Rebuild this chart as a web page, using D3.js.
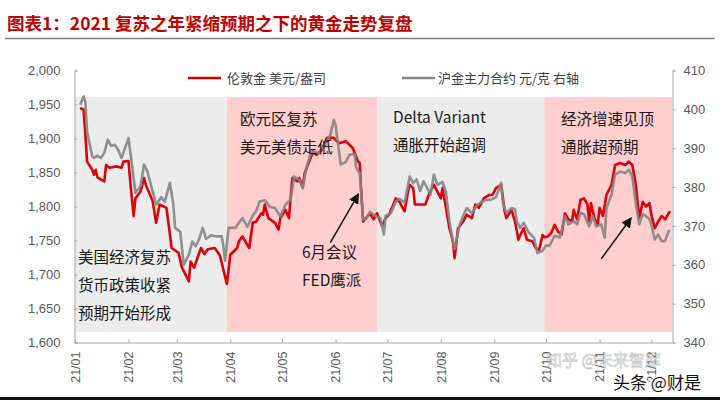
<!DOCTYPE html>
<html><head><meta charset="utf-8">
<script src="https://cdn.jsdelivr.net/npm/d3@7"></script>
<style>body{margin:0;background:#fff}svg{display:block}</style>
</head><body>
<svg id="c" width="720" height="400"></svg>
<script>
const title = "图表1：2021 复苏之年紧缩预期之下的黄金走势复盘";
const seriesNames = ["伦敦金 美元/盎司", "沪金主力合约 元/克 右轴"];
const leftTicks = [1600, 1650, 1700, 1750, 1800, 1850, 1900, 1950, 2000];
const rightTicks = [340, 350, 360, 370, 380, 390, 400, 410];
const monthTicks = ["01-01","02-01","03-01","04-01","05-01","06-01","07-01","08-01","09-01","10-01","11-01","12-01"];
const monthLabels = ["21/01","21/02","21/03","21/04","21/05","21/06","21/07","21/08","21/09","21/10","21/11","21/12"];
const periodStarts = ["01-01","03-30","06-25","09-30"];
const periodEnds = ["03-30","06-25","09-30","12-13"];
const periodKinds = ["gray","pink","gray","pink"];
const noteLines = [
  ["美国经济复苏","货币政策收紧","预期开始形成"],
  ["欧元区复苏","美元美债走低"],
  ["6月会议","FED鹰派"],
  ["Delta Variant","通胀开始超调"],
  ["经济增速见顶","通胀超预期"]
];

const redDates = ["01-04","01-06","01-07","01-08","01-11","01-12","01-13","01-14","01-18","01-19","01-21","01-25","01-28","01-29",
"02-01","02-02","02-04","02-05","02-08","02-10","02-11","02-15","02-17","02-19","02-23","02-25","02-26",
"03-02","03-04","03-08","03-09","03-11","03-15","03-17","03-19","03-23","03-26","03-30",
"04-01","04-05","04-06","04-08","04-12","04-14","04-16","04-19","04-20","04-21","04-23","04-27","04-29","04-30",
"05-03","05-05","05-06","05-07","05-10","05-11","05-13","05-14","05-17","05-19","05-21","05-24","05-27","05-31",
"06-03","06-07","06-09","06-11","06-14","06-15","06-16","06-17","06-18","06-21","06-23","06-25","06-28","06-30",
"07-02","07-06","07-08","07-11","07-13","07-14","07-16","07-17","07-21","07-23","07-25","07-28","07-29","07-31",
"08-01","08-02","08-04","08-06","08-08","08-09","08-11","08-14","08-16","08-19","08-21","08-23","08-26","08-29","08-31",
"09-02","09-05","09-07","09-08","09-11","09-13","09-15","09-16","09-18","09-20","09-23","09-25","09-27","09-29","09-30",
"10-02","10-04","10-06","10-08","10-10","10-12","10-14","10-16","10-17","10-19","10-21","10-23","10-25","10-26","10-27","10-29","10-31",
"11-01","11-03","11-05","11-08","11-10","11-13","11-16","11-18","11-20","11-22","11-24","11-26","11-28","11-30",
"12-01","12-03","12-05","12-07","12-09","12-11","12-12"];
const redValues = [1945,1942,1906,1866,1854,1847,1854,1843,1837,1861,1857,1859,1857,1866,
1867,1837,1786,1812,1822,1842,1832,1808,1776,1803,1798,1759,1739,
1732,1710,1690,1719,1710,1739,1730,1737,1739,1728,1686,
1729,1739,1749,1756,1739,1776,1778,1790,1788,1803,1783,1776,1766,1783,
1795,1783,1813,1842,1837,1842,1828,1848,1868,1881,1876,1883,1901,1901,
1893,1896,1891,1886,1866,1864,1817,1778,1781,1790,1781,1790,1771,1783,
1788,1812,1807,1793,1822,1832,1827,1803,1803,1803,1817,1832,1827,1817,
1812,1827,1798,1768,1749,1724,1768,1778,1788,1783,1803,1798,1812,1817,1817,
1827,1832,1793,1783,1795,1778,1751,1758,1768,1751,1749,1739,1736,1758,1755,
1756,1761,1773,1763,1759,1790,1781,1778,1795,1781,1810,1812,1803,1778,1805,1783,1773,
1798,1786,1817,1832,1861,1864,1861,1866,1861,1832,1783,1807,1800,1805,
1788,1768,1778,1786,1781,1790,1793];

const grayDates = ["01-04","01-06","01-07","01-08","01-11","01-12","01-14","01-16","01-18","01-20","01-22","01-24","01-26","01-28",
"02-01","02-03","02-05","02-08","02-10","02-12","02-14","02-17","02-20","02-22","02-25","02-27","02-28",
"03-03","03-05","03-08","03-10","03-12","03-14","03-16","03-18","03-21","03-24","03-27","03-28","03-29","03-31",
"04-04","04-06","04-08","04-11","04-14","04-16","04-18","04-21","04-24","04-27","04-30",
"05-03","05-06","05-08","05-11","05-13","05-15","05-18","05-22","05-26","05-29","05-31",
"06-01","06-02","06-04","06-07","06-09","06-12","06-13","06-15","06-16","06-17","06-19","06-21","06-24","06-27","06-29","06-30",
"07-03","07-06","07-08","07-11","07-14","07-16","07-18","07-20","07-22","07-25","07-26","07-28","07-30",
"08-02","08-04","08-06","08-08","08-09","08-12","08-14","08-16","08-19","08-22","08-24","08-27","08-30",
"09-02","09-05","09-06","09-08","09-11","09-13","09-14","09-16","09-18","09-21","09-24","09-26","09-29",
"10-01","10-03","10-06","10-09","10-12","10-14","10-17","10-19","10-21","10-23","10-26","10-28","10-30",
"11-02","11-04","11-05","11-08","11-10","11-13","11-16","11-18","11-20","11-22","11-24","11-26","11-28","11-30",
"12-01","12-03","12-05","12-07","12-09","12-11","12-12"];
const grayValues = [401.2,403.3,402,394.3,387.9,387.5,388.1,387.5,388.8,392.2,390.6,390.9,389.6,387.5,
392.6,385.8,378.5,380.2,385.8,383.9,380.6,375.5,377.4,376.2,381.1,375.5,369.5,
368.5,360,362.6,366,364.8,366.7,369.5,366.7,367.6,367.3,367.3,364.8,361,369.5,
369.5,370.8,372,369.8,372.7,373.8,376.3,376.6,374.9,374.6,372.4,
375.5,376.8,382.7,381.9,379.7,384.9,389.2,388.8,390.9,393.5,397.3,
396,392.6,385.8,386.5,388.3,388.6,385,383.5,378,371.6,372,373.6,372.6,372,367.8,372.6,
373.3,376.3,377,376,382.7,381,382,379,381.5,379,378,383.2,380.6,
381.3,378.6,371.2,366,364,370.4,372.6,374.6,373.3,375.3,376,376.7,376.7,
377.4,381.1,376,373.3,374.6,374.3,371.2,369.5,370.8,368.3,367,363,363.6,
365,364.9,367.5,367,372.5,370.4,371.2,370.4,373.4,373,369.9,372.5,369.9,
370.4,367,374.6,378,383.2,384,383.6,384.5,382.7,375.9,370.4,373,372.5,371.7,
370.4,366.5,367.8,366.1,366.1,368.7,368.7];

const parse = s => d3.timeParse("%Y-%m-%d")("2021-" + s);
const svg = d3.select("#c");
const FONT = "'Noto Sans CJK SC', 'Noto Sans', sans-serif";
const NUMF = "'Liberation Sans', Arial, sans-serif";

const x = d3.scaleTime().domain([parse("01-01"), parse("12-13")]).range([75, 672]);
const yL = d3.scaleLinear().domain([1600, 2000]).range([342.5, 70.5]);
const yR = d3.scaleLinear().domain([340, 410]).range([342.5, 70.5]);

// title
svg.append("text").attr("x", 7).attr("y", 30).text(title)
  .attr("font-family", FONT).attr("font-weight", 700).attr("font-size", 17.5).attr("fill", "#c00000");
svg.append("line").attr("x1", 5).attr("x2", 715).attr("y1", 38.5).attr("y2", 38.5)
  .attr("stroke", "#808080").attr("stroke-width", 1.5);

// shaded periods
const bandTop = 97, bandBottom = 332;
svg.append("g").selectAll("rect").data(periodStarts.map((s, i) => ({s, e: periodEnds[i], k: periodKinds[i]})))
  .join("rect")
  .attr("x", d => x(parse(d.s)))
  .attr("width", d => x(parse(d.e)) - x(parse(d.s)))
  .attr("y", bandTop).attr("height", bandBottom - bandTop)
  .attr("fill", d => d.k === "pink" ? "#ffcfcf" : "#ececec");

// axes
const axColor = "#a6a6a6", lblColor = "#595959";
const gL = svg.append("g").attr("transform", "translate(74.5,0)")
  .call(d3.axisLeft(yL).tickValues(leftTicks).tickFormat(d3.format(",")).tickSize(-3).tickPadding(14));
const gR = svg.append("g").attr("transform", "translate(672.5,0)")
  .call(d3.axisRight(yR).tickValues(rightTicks).tickSize(3).tickPadding(8));
const gX = svg.append("g").attr("transform", "translate(0,342.5)")
  .call(d3.axisBottom(x).tickValues(monthTicks.map(parse)).tickFormat((d, i) => monthLabels[i]).tickSize(-3).tickSizeOuter(0));
[gL, gR, gX].forEach(g => {
  g.selectAll("path,line").attr("stroke", axColor);
  g.selectAll("text").attr("fill", lblColor).attr("font-family", NUMF).attr("font-size", 13);
});
gX.selectAll("text").attr("transform", "rotate(-90)").attr("text-anchor", "end")
  .attr("x", -9).attr("y", 0).attr("dy", "0.35em").attr("font-size", 12.5);

// lines
const redData = redDates.map((d, i) => ({d: parse(d), v: redValues[i]}));
const grayData = grayDates.map((d, i) => ({d: parse(d), v: grayValues[i]}));
svg.append("path").datum(redData)
  .attr("d", d3.line().x(d => x(d.d)).y(d => yL(d.v)))
  .attr("fill", "none").attr("stroke", "#e0000a").attr("stroke-width", 2.6).attr("stroke-linejoin", "round");
svg.append("path").datum(grayData)
  .attr("d", d3.line().x(d => x(d.d)).y(d => yR(d.v)))
  .attr("fill", "none").attr("stroke", "#858585").attr("stroke-opacity", 0.9).attr("stroke-width", 2.6).attr("stroke-linejoin", "round");

// legend
const legend = svg.append("g");
const legX = [188, 402], legTX = [227, 438], legC = ["#d40000", "#858585"];
seriesNames.forEach((n, i) => {
  legend.append("line").attr("x1", legX[i]).attr("x2", legX[i] + 33).attr("y1", 78).attr("y2", 78)
    .attr("stroke", legC[i]).attr("stroke-width", 2.5);
  legend.append("text").attr("x", legTX[i]).attr("y", 82.5).text(n)
    .attr("font-family", FONT).attr("font-size", 13).attr("fill", "#404040");
});

// annotations
const notePos = [[78, 263], [240, 125], [302, 258], [393, 123], [561, 125]];
noteLines.forEach((lines, i) => {
  lines.forEach((t, j) => {
    svg.append("text").attr("x", notePos[i][0]).attr("y", notePos[i][1] + j * 28).text(t)
      .attr("font-family", FONT).attr("font-size", 15.5).attr("fill", "#1a1a1a");
  });
});

// arrows
const defs = svg.append("defs");
defs.append("marker").attr("id", "ah").attr("viewBox", "0 0 10 10").attr("refX", 8).attr("refY", 5)
  .attr("markerWidth", 7).attr("markerHeight", 7).attr("orient", "auto")
  .append("path").attr("d", "M0,0 L10,5 L0,10 z").attr("fill", "#111");
const arrows = [
  [parse("05-29"), 1747, parse("06-14"), 1817],
  [parse("11-02"), 1723, parse("11-19"), 1782]
];
arrows.forEach(a => {
  svg.append("line").attr("x1", x(a[0])).attr("y1", yL(a[1])).attr("x2", x(a[2])).attr("y2", yL(a[3]))
    .attr("stroke", "#111").attr("stroke-width", 1.5).attr("marker-end", "url(#ah)");
});

// watermarks
svg.append("text").attr("x", 546).attr("y", 366).text("知乎 @未来智库")
  .attr("font-family", FONT).attr("font-size", 16).attr("fill", "#ffffff").attr("fill-opacity", 0.6)
  .attr("stroke", "#9a9a9a").attr("stroke-opacity", 0.5).attr("stroke-width", 0.8);
svg.append("text").attr("x", 613).attr("y", 389).text("头条 @财是")
  .attr("font-family", FONT).attr("font-size", 17).attr("fill", "#111")
  .attr("stroke", "#fff").attr("stroke-width", 2.5).attr("paint-order", "stroke");

// bottom dark strip
svg.append("rect").attr("x", 0).attr("y", 397).attr("width", 720).attr("height", 3).attr("fill", "#111");
</script>
</body></html>
